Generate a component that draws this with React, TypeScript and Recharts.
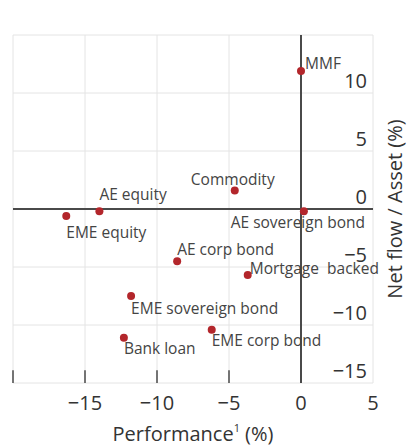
import React from "react";
import {
  ScatterChart, Scatter, XAxis, YAxis, CartesianGrid, ReferenceLine
} from "recharts";

const names = [
  "MMF", "Commodity", "AE equity", "EME equity", "AE sovereign bond",
  "AE corp bond", "Mortgage  backed", "EME sovereign bond", "EME corp bond", "Bank loan",
];
const performance = [0.0, -4.6, -14.0, -16.3, 0.2, -8.6, -3.7, -11.8, -6.2, -12.3];
const netFlow = [11.9, 1.6, -0.2, -0.6, -0.2, -4.5, -5.7, -7.5, -10.4, -11.1];

const xTicks = [-20, -15, -10, -5, 0, 5];
const yTicks = [-15, -10, -5, 0, 5, 10, 15];
const bottomTicks = [-20, -15, -10, -5, 0];

// where each label sits relative to its dot
const labelPos: Record<string, { dx: number; dy: number; anchor: "start" | "middle" | "end" }> = {
  "MMF": { dx: 4, dy: -7, anchor: "start" },
  "Commodity": { dx: -2, dy: -11, anchor: "middle" },
  "AE equity": { dx: 0, dy: -17, anchor: "start" },
  "EME equity": { dx: 0, dy: 17, anchor: "start" },
  "AE sovereign bond": { dx: -6, dy: 11, anchor: "middle" },
  "AE corp bond": { dx: 0, dy: -12, anchor: "start" },
  "Mortgage  backed": { dx: 2, dy: -7, anchor: "start" },
  "EME sovereign bond": { dx: 0, dy: 13, anchor: "start" },
  "EME corp bond": { dx: 0, dy: 11, anchor: "start" },
  "Bank loan": { dx: 0, dy: 11, anchor: "start" },
};

const data = names.map((name, i) => ({ name, x: performance[i], y: netFlow[i] }));

const FONT = "'Open Sans', 'Noto Sans', sans-serif";
const W = 407;
const H = 446;
const XAXIS_H = 63;
const M = { top: 35, right: 34, left: 13, bottom: 0 };

const DotWithLabel = (props: any) => {
  const { cx, cy, payload } = props;
  const p = labelPos[payload.name];
  return (
    <g>
      <circle cx={cx} cy={cy} r={4} fill="#b3262b" />
      <text
        x={cx + p.dx}
        y={cy + p.dy}
        dy="0.35em"
        textAnchor={p.anchor}
        fontSize={15.5}
        fontFamily={FONT}
        fill="#444"
        style={{ whiteSpace: "pre" }}
      >
        {payload.name}
      </text>
    </g>
  );
};

const fmt = (v: number) => (v < 0 ? `\u2212${Math.abs(v)}` : `${v}`);

const XTick = (props: any) => {
  const { x, y, payload } = props;
  if (payload.value === -20) return null;
  return (
    <text x={x} y={y + 20} dy="0.35em" textAnchor="middle" fontSize={20} fontFamily={FONT} fill="#333">
      {fmt(payload.value)}
    </text>
  );
};

const YTick = (props: any) => {
  const { x, y, payload } = props;
  if (payload.value === 15) return null;
  return (
    <text x={x} y={y - 12} dy="0.35em" textAnchor="end" fontSize={20} fontFamily={FONT} fill="#333">
      {fmt(payload.value)}
    </text>
  );
};

export default function App() {
  const plotW = W - M.left - M.right;
  const plotH = H - M.top - XAXIS_H;
  return (
    <div style={{ position: "absolute", left: 0, top: 0, width: W, height: H, background: "#fff" }}>
      <ScatterChart width={W} height={H} margin={M}>
        <CartesianGrid stroke="#e4e4e4" strokeWidth={1} />
        <XAxis
          type="number"
          dataKey="x"
          domain={[-20, 5]}
          ticks={xTicks}
          interval={0}
          axisLine={false}
          tickLine={false}
          tickSize={0}
          tickMargin={0}
          height={XAXIS_H}
          tick={<XTick />}
        />
        <YAxis
          type="number"
          dataKey="y"
          domain={[-15, 15]}
          ticks={yTicks}
          interval={0}
          orientation="right"
          mirror
          axisLine={false}
          tickLine={false}
          tickSize={0}
          tickMargin={6}
          tick={<YTick />}
        />
        <ReferenceLine x={0} stroke="#4a4a4a" strokeWidth={2} />
        <ReferenceLine y={0} stroke="#4a4a4a" strokeWidth={2} />
        {bottomTicks.map((t) => (
          <ReferenceLine
            key={t}
            segment={[{ x: t, y: -15 }, { x: t, y: -13.9 }]}
            stroke="#4a4a4a"
            strokeWidth={1.5}
          />
        ))}
        <Scatter data={data} isAnimationActive={false} shape={<DotWithLabel />} />
        <text
          x={M.left + plotW / 2}
          y={H - 5}
          textAnchor="middle"
          fontSize={20}
          fontFamily={FONT}
          fill="#333"
        >
          Performance<tspan dy={-9} fontSize={11}>1</tspan><tspan dy={9}> (%)</tspan>
        </text>
        <text
          transform={`translate(${W - 12}, ${M.top + plotH / 2}) rotate(-90)`}
          textAnchor="middle"
          dy="0.35em"
          fontSize={20}
          fontFamily={FONT}
          fill="#333"
        >
          Net flow / Asset (%)
        </text>
      </ScatterChart>
    </div>
  );
}
